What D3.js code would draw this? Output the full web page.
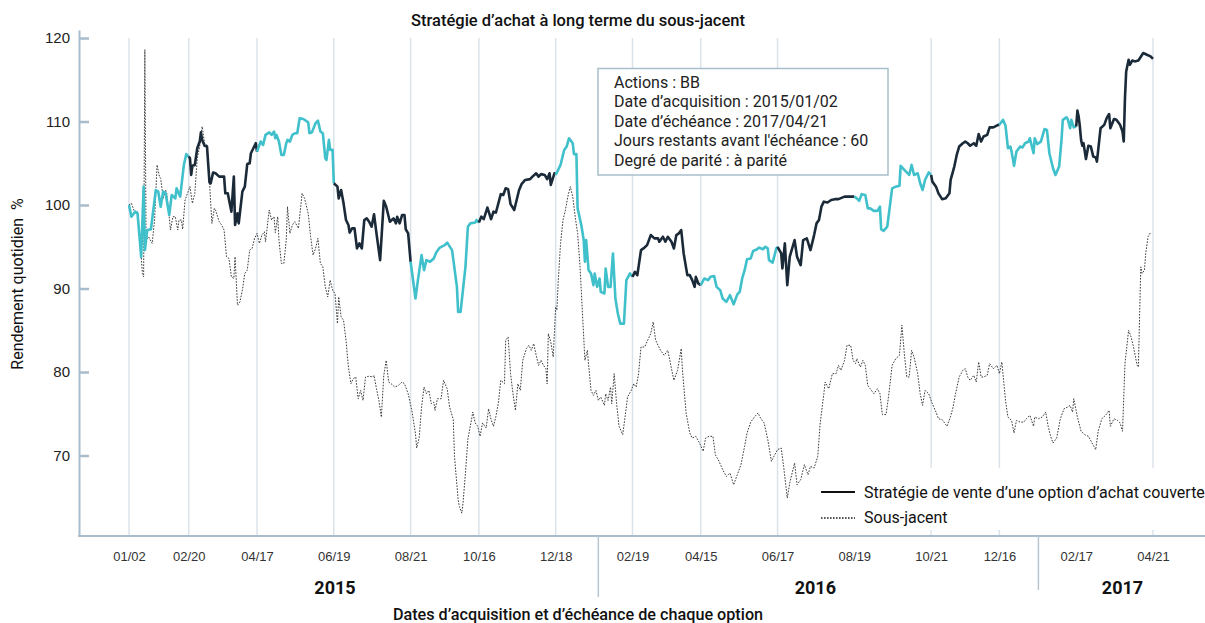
<!DOCTYPE html>
<html>
<head>
<meta charset="utf-8">
<script src="https://cdn.jsdelivr.net/npm/d3@7"></script>
<style>
  body { margin: 0; background: #fff; }
  svg { display: block; font-family: Roboto, "Noto Sans", sans-serif; }
</style>
</head>
<body>
<div id="chart"></div>
<script>
// option expiries (period boundaries), all used as x tick labels
const expiries = ["2015-01-02","2015-02-20","2015-04-17","2015-06-19","2015-08-21","2015-10-16","2015-12-18",
  "2016-02-19","2016-04-15","2016-06-17","2016-08-19","2016-10-21","2016-12-16","2017-02-17","2017-04-21"];
const noGrid = ["2016-08-19","2017-02-17"];
const yTicks = [70, 80, 90, 100, 110, 120];
const years = ["2015", "2016", "2017"];
const yearCenters = ["2015-06-20", "2016-07-18", "2017-03-27"];
const yearBreaks = ["2016-01-22", "2017-01-17"];
const infoLines = ["Actions : BB", "Date d\u2019acquisition : 2015/01/02", "Date d\u2019\u00e9ch\u00e9ance : 2017/04/21",
  "Jours restants avant l'\u00e9ch\u00e9ance : 60", "Degr\u00e9 de parit\u00e9 : \u00e0 parit\u00e9"];

// [days since 2015-01-02, value %]
const strategy = [[0,100.0],[2,98.6],[5,99.2],[7,99.0],[10,93.8],[12,102.2],[13,94.6],[15,97.0],[18,97.1],[22,101.8],[24,101.6],[26,99.8],[28,101.6],[30,101.4],[33,98.8],[35,101.2],[38,100.8],[39,102.0],[42,101.0],[45,104.8],[47,106.1],[49,105.8],
[50,105.6],[51,103.6],[52,104.7],[54,104.8],[56,106.8],[58,107.6],[59,108.7],[60,107.8],[62,107.1],[64,107.0],[66,102.7],[67,102.6],[69,103.9],[71,103.8],[74,103.4],[78,103.4],[79,101.4],[81,101.4],[84,99.2],[86,103.4],[87,97.6],[89,99.0],[90,97.8],[93,101.6],[95,102.2],[97,104.9],[99,105.0],[100,106.2],[102,106.8],[104,107.4],[105,106.4],
[106,106.8],[108,107.6],[110,107.2],[112,108.4],[115,108.7],[117,108.4],[119,108.8],[120,108.0],[121,108.4],[123,107.6],[125,106.0],[127,106.0],[129,107.4],[130,107.8],[132,107.6],[134,108.4],[136,108.6],[138,108.6],[140,110.4],[143,110.3],[147,109.9],[148,108.6],[150,108.7],[153,109.8],[155,110.1],[157,108.8],[159,108.6],[161,105.6],[162,105.4],[164,107.8],[165,106.6],[167,106.6],[168,102.6],
[171,102.2],[172,100.8],[174,101.8],[176,100.2],[178,98.2],[180,97.6],[181,96.7],[183,97.2],[185,97.2],[187,94.8],[189,95.4],[191,94.8],[193,98.2],[195,98.4],[197,98.0],[199,97.4],[201,98.9],[203,96.6],[206,93.4],[209,100.5],[211,99.8],[214,98.0],[217,98.4],[219,97.8],[220,98.6],[222,97.8],[224,98.8],[226,98.8],[227,97.1],[229,96.6],[231,93.2],
[235,88.8],[237,91.0],[240,94.0],[242,92.2],[244,93.4],[247,93.2],[250,93.6],[252,94.3],[255,94.9],[259,95.2],[261,95.5],[265,94.6],[269,90.2],[270,87.2],[272,87.2],[276,92.6],[278,97.4],[280,97.8],[284,97.9],[285,98.2],[287,97.9],
[289,98.6],[291,98.3],[294,99.7],[297,98.3],[299,99.2],[301,99.1],[305,101.3],[307,101.2],[309,102.0],[311,101.9],[313,100.1],[316,99.4],[318,100.6],[320,101.8],[322,102.5],[325,103.0],[329,103.1],[331,103.4],[334,103.8],[336,103.4],[338,103.7],[341,103.6],[343,103.1],[345,103.8],[346,102.4],[349,103.8],[350,103.6],
[354,104.8],[357,106.6],[359,107.0],[361,108.0],[364,107.4],[365,106.1],[367,106.1],[368,99.6],[371,97.6],[373,95.8],[374,93.2],[375,95.8],[377,92.2],[379,91.8],[381,90.4],[382,91.8],[384,90.2],[386,91.2],[387,89.6],[390,89.4],[391,92.4],[393,90.2],[395,90.2],[397,94.2],[399,88.8],[401,87.0],[403,85.8],[406,85.8],[408,91.0],[411,91.8],[413,91.4],
[415,92.0],[417,91.6],[420,94.6],[422,94.8],[425,95.2],[428,96.4],[431,96.0],[434,96.0],[435,95.6],[438,96.2],[440,95.6],[442,96.2],[445,95.6],[447,94.8],[449,96.4],[451,96.6],[453,97.0],[455,94.2],[458,91.6],[460,91.6],[462,91.0],[464,90.2],[465,91.4],[467,90.6],[469,90.4],
[472,91.2],[475,91.0],[477,91.4],[480,91.5],[482,90.2],[485,89.8],[487,88.8],[490,88.4],[493,89.2],[496,88.1],[499,89.3],[501,89.6],[503,91.2],[505,92.2],[507,93.5],[510,93.6],[512,94.5],[514,94.6],[517,94.9],[520,94.7],[522,95.0],[524,94.8],[525,93.4],[528,93.1],[531,94.8],[532,95.0],
[535,94.2],[536,92.4],[538,95.4],[540,90.4],[542,93.8],[546,95.8],[548,93.8],[551,92.8],[553,95.8],[556,96.0],[559,94.6],[562,96.4],[564,97.8],[566,98.2],[568,99.8],[570,100.4],[573,100.3],[576,100.6],[579,100.7],[582,100.7],[587,101.0],[591,101.0],[595,101.0],
[597,100.8],[599,100.5],[601,101.3],[604,101.2],[606,99.6],[608,99.6],[611,99.3],[614,99.3],[616,99.8],[617,97.1],[619,96.9],[622,97.4],[626,102.0],[629,102.2],[632,102.3],[633,104.7],[636,104.2],[640,103.6],[642,104.8],[644,103.6],[647,103.8],[649,102.6],[651,101.8],[653,103.0],[656,103.9],[658,103.6],
[659,102.8],[662,102.2],[664,101.4],[667,100.7],[670,100.8],[673,101.4],[674,103.0],[677,104.6],[679,106.0],[681,107.0],[684,107.4],[686,107.6],[688,107.4],[690,107.1],[693,107.4],[695,107.1],[697,108.5],[699,107.6],[701,108.2],[704,108.4],[706,109.3],[709,109.3],[713,109.6],[714,109.6],
[717,110.2],[719,109.5],[721,106.8],[723,107.0],[724,106.4],[726,104.7],[728,106.4],[731,107.0],[733,106.9],[735,107.4],[738,107.6],[739,108.0],[742,106.2],[743,108.0],[745,107.3],[748,107.6],[751,109.1],[753,109.0],[755,106.2],[758,104.4],[760,103.6],[763,104.6],[765,107.9],[766,110.2],[769,110.5],[770,110.3],[772,109.2],[773,110.2],[775,109.3],[777,109.4],
[778,111.3],[779,110.6],[780,109.4],[781,107.8],[782,107.1],[783,107.4],[785,105.5],[787,107.1],[789,107.0],[791,105.8],[793,105.7],[794,105.2],[797,109.2],[800,109.6],[802,110.4],[804,110.9],[805,109.2],[808,110.3],[810,110.2],[813,109.6],[815,108.8],[816,107.6],[817,112.8],[818,116.0],[820,117.4],[821,116.8],[823,117.3],[825,117.2],[828,117.3],[832,118.2],[835,118.0],[838,117.8],[840,117.5]];

const underlying = [[0,100.0],[2,100.2],[5,99.0],[7,99.2],[9,95.8],[11,91.8],[12,91.4],[13,118.6],[14,95.8],[16,96.2],[19,95.4],[21,98.2],[23,104.8],[25,103.4],[26,103.2],[28,100.8],[30,101.8],[31,101.4],[33,98.6],[34,97.0],[36,98.6],[38,98.6],[40,97.0],[41,98.2],[43,98.2],[44,97.1],[46,100.6],[48,101.4],[50,102.2],[52,100.2],[54,101.4],[56,105.6],[58,107.0],[60,109.4],[62,107.4],[64,107.2],[66,102.8],[68,97.8],[70,99.6],[71,99.4],[74,98.0],[76,97.6],[78,97.0],[80,93.8],[82,93.6],[84,91.4],[86,91.2],[87,93.8],[89,88.0],[91,88.4],[93,89.8],[95,91.8],[97,92.2],[99,94.6],[101,94.8],[103,96.0],[105,96.6],[107,95.4],[109,96.4],[111,96.8],[112,95.6],[115,99.4],[117,98.2],[119,98.6],[120,96.7],[122,98.6],[123,95.8],[125,93.0],[127,93.0],[129,95.8],[130,99.8],[132,96.6],[134,97.6],[136,98.0],[139,97.2],[142,101.4],[144,100.8],[147,99.0],[149,96.2],[151,94.0],[153,94.8],[155,96.0],[157,93.0],[159,92.6],[161,90.2],[163,89.0],[165,91.0],[167,89.8],[169,89.4],[171,85.8],[172,89.0],[174,86.6],[176,86.2],[178,83.8],[180,80.6],[182,78.6],[184,79.2],[186,79.4],[188,76.8],[190,77.8],[192,76.6],[194,79.4],[197,79.5],[200,79.4],[201,79.6],[203,78.0],[205,76.6],[207,74.6],[209,79.6],[211,81.4],[213,78.8],[215,78.6],[218,78.2],[221,78.4],[224,78.8],[226,78.6],[229,77.4],[232,75.4],[235,72.6],[236,70.9],[238,72.1],[240,75.8],[242,78.2],[244,77.4],[246,77.8],[248,76.2],[250,76.4],[251,75.4],[253,76.8],[256,76.8],[258,79.0],[261,78.0],[263,75.8],[266,74.3],[267,69.9],[270,64.7],[271,63.9],[273,63.1],[274,64.3],[276,67.9],[278,72.0],[281,74.3],[282,75.2],[284,73.9],[286,73.5],[288,72.3],[290,73.9],[293,73.3],[295,75.6],[297,74.3],[299,73.5],[301,74.7],[303,76.3],[305,79.0],[308,78.6],[309,83.8],[311,84.2],[313,79.8],[315,77.4],[317,75.4],[319,78.6],[321,77.8],[323,81.4],[326,82.8],[328,83.2],[330,82.6],[332,83.4],[334,82.0],[336,80.8],[338,81.4],[340,80.8],[342,80.4],[343,78.6],[344,84.6],[346,83.6],[348,81.8],[350,87.8],[351,87.4],[352,90.6],[354,95.4],[356,98.2],[358,99.4],[360,101.0],[362,102.2],[364,101.0],[366,98.6],[368,96.6],[370,92.6],[372,87.0],[374,81.4],[376,82.6],[377,80.9],[379,77.8],[381,77.2],[383,77.8],[385,76.6],[387,77.0],[390,76.0],[391,77.4],[393,76.6],[395,78.2],[396,76.2],[398,79.8],[400,76.2],[402,73.5],[405,72.5],[407,74.7],[409,77.0],[412,77.8],[414,78.6],[416,78.2],[418,79.8],[420,83.0],[423,83.0],[428,84.6],[430,86.0],[432,83.8],[436,82.6],[439,82.0],[442,82.6],[445,80.4],[447,79.0],[450,80.2],[453,82.8],[454,80.2],[457,75.1],[460,72.7],[462,72.1],[465,72.3],[468,71.5],[471,70.5],[473,72.1],[476,72.3],[479,72.3],[481,70.1],[484,69.3],[487,68.3],[490,67.5],[493,67.9],[496,66.5],[499,67.7],[502,68.9],[505,71.1],[507,72.7],[510,74.0],[513,74.6],[516,75.1],[518,74.5],[521,73.9],[524,71.9],[527,69.3],[529,69.9],[532,70.7],[535,70.9],[537,68.7],[540,64.9],[542,66.7],[546,69.1],[548,66.5],[551,67.1],[554,68.9],[557,67.7],[559,68.7],[562,68.5],[565,69.9],[567,73.9],[570,77.4],[571,78.8],[574,78.0],[577,79.8],[580,79.8],[582,80.8],[584,80.2],[587,81.4],[589,83.2],[592,83.2],[594,81.4],[596,81.0],[597,81.6],[600,80.6],[602,81.4],[604,80.8],[606,78.4],[608,78.0],[611,77.4],[614,78.0],[616,77.4],[618,74.9],[621,74.9],[623,77.0],[626,80.8],[629,81.6],[632,82.0],[634,85.6],[636,82.2],[638,79.4],[640,79.4],[642,82.6],[644,81.8],[647,79.8],[649,77.4],[651,76.0],[653,77.8],[656,77.4],[659,76.2],[662,75.2],[664,74.4],[667,74.3],[671,73.5],[674,74.7],[676,75.8],[678,77.4],[681,79.4],[684,80.2],[686,80.4],[688,79.4],[690,79.0],[693,79.6],[695,78.8],[697,81.2],[699,79.4],[701,79.4],[704,79.6],[706,81.0],[709,80.4],[712,80.8],[714,79.8],[716,81.2],[719,76.6],[721,74.6],[724,74.2],[726,72.7],[728,74.2],[731,74.0],[734,74.0],[736,74.4],[739,74.8],[742,73.5],[743,74.6],[746,74.4],[749,74.6],[752,75.2],[754,73.5],[756,72.3],[758,71.5],[761,72.1],[764,74.4],[767,75.6],[770,75.8],[772,76.0],[774,75.2],[775,76.8],[778,74.6],[781,72.9],[784,72.5],[787,72.3],[790,71.5],[793,70.7],[795,72.9],[798,74.4],[801,74.8],[804,75.4],[805,73.5],[808,74.4],[811,74.2],[813,73.9],[815,72.9],[817,81.0],[820,85.0],[822,84.2],[824,83.0],[827,80.8],[828,80.6],[830,92.6],[831,91.8],[833,92.2],[834,94.2],[836,96.2],[838,96.7]];

const W = 1205, H = 623;
const parse = d3.utcParse("%Y-%m-%d");
const start = parse(expiries[0]);
const toDate = d => d3.utcDay.offset(start, d);
const dark = "#1b2a39", cyan = "#3fc0cb", axisCol = "#a9bccb", gridCol = "#dbe3ea";

const svg = d3.select("#chart").append("svg").attr("width", W).attr("height", H);

const x = d3.scaleUtc().domain([start, parse(expiries[expiries.length - 1])]).range([129, 1153]);
const y = d3.scaleLinear().domain([60.36, 120.96]).range([536, 30]);

// vertical grid at each expiry
svg.append("g").selectAll("line")
  .data(expiries.filter(d => !noGrid.includes(d)))
  .join("line")
  .attr("x1", d => x(parse(d))).attr("x2", d => x(parse(d)))
  .attr("y1", y(120)).attr("y2", 536)
  .attr("stroke", gridCol).attr("stroke-width", 1.5);

// y axis
const yAxis = svg.append("g").attr("transform", "translate(79,0)")
  .call(d3.axisLeft(y).tickValues(yTicks).tickSize(-10).tickSizeOuter(0).tickPadding(9));
yAxis.select(".domain").attr("stroke", axisCol).attr("stroke-width", 2);
yAxis.selectAll(".tick line").attr("stroke", axisCol).attr("stroke-width", 2.5);
yAxis.selectAll(".tick text").attr("fill", "#222").style("font-size", "15px").style("font-weight", 500);

// x axis
svg.append("line").attr("x1", 78).attr("x2", W).attr("y1", 536).attr("y2", 536)
  .attr("stroke", axisCol).attr("stroke-width", 2);
const xAxis = svg.append("g").attr("transform", "translate(0,536)")
  .call(d3.axisBottom(x).tickValues(expiries.map(parse)).tickFormat(d3.utcFormat("%m/%d")).tickSize(0).tickPadding(15.5));
xAxis.select(".domain").remove();
xAxis.selectAll(".tick text").attr("fill", "#333").style("font-size", "13px");

// year separators and labels
svg.append("g").selectAll("line").data(yearBreaks).join("line")
  .attr("x1", d => x(parse(d))).attr("x2", d => x(parse(d)))
  .attr("y1", 536).attr("y2", (d, i) => i === 0 ? 597 : 590)
  .attr("stroke", "#b8c6d2").attr("stroke-width", 1.5);
svg.append("g").selectAll("text").data(years).join("text")
  .attr("x", (d, i) => x(parse(yearCenters[i]))).attr("y", 594)
  .attr("text-anchor", "middle").attr("fill", "#111")
  .style("font-size", "18px").style("font-weight", 700).text(d => d);

// legend background hides the grid
svg.append("rect").attr("x", 815).attr("y", 468).attr("width", 400).attr("height", 62).attr("fill", "#fff");

// underlying (dotted)
const line = d3.line().x(d => x(toDate(d[0]))).y(d => y(d[1]));
svg.append("path").datum(underlying).attr("d", line)
  .attr("fill", "none").attr("stroke", "#3a3a3a").attr("stroke-width", 1)
  .attr("stroke-dasharray", "1.6 1.4");

// strategy, split by option period with alternating colours
const bounds = expiries.map(s => Math.round((parse(s) - start) / 864e5));
const segs = d3.range(bounds.length - 1).map(i => {
  let lo = bounds[i], hi = bounds[i + 1];
  let pts = strategy.filter(d => d[0] >= lo && d[0] <= hi);
  const prev = strategy.filter(d => d[0] < lo).pop();
  if (prev && pts[0][0] > lo) pts.unshift(prev);
  return { i, pts };
});
svg.append("g").selectAll("path").data(segs).join("path")
  .attr("d", d => line(d.pts))
  .attr("fill", "none").attr("stroke", d => d.i % 2 ? dark : cyan)
  .attr("stroke-width", 2.6).attr("stroke-linejoin", "round");

// info box
svg.append("rect").attr("x", 598).attr("y", 68.5).attr("width", 290).attr("height", 106.5)
  .attr("fill", "#fff").attr("stroke", "#a9bfcc").attr("stroke-width", 1.5);
svg.append("g").selectAll("text").data(infoLines).join("text")
  .attr("x", 614).attr("y", (d, i) => 88 + i * 19.4)
  .attr("fill", "#222").style("font-size", "16px").text(d => d);

// legend
svg.append("line").attr("x1", 821).attr("x2", 855).attr("y1", 492).attr("y2", 492)
  .attr("stroke", "#111").attr("stroke-width", 2);
svg.append("line").attr("x1", 821).attr("x2", 855).attr("y1", 518).attr("y2", 518)
  .attr("stroke", "#222").attr("stroke-width", 1.3).attr("stroke-dasharray", "1.6 1.4");
svg.append("text").attr("x", 864).attr("y", 497.5).attr("fill", "#111").style("font-size", "16px")
  .text("Strat\u00e9gie de vente d\u2019une option d\u2019achat couverte");
svg.append("text").attr("x", 864).attr("y", 522.5).attr("fill", "#111").style("font-size", "16px")
  .text("Sous-jacent");

// titles
svg.append("text").attr("x", 578).attr("y", 26).attr("text-anchor", "middle")
  .attr("fill", "#111").style("font-size", "16.5px").style("font-weight", 500)
  .text("Strat\u00e9gie d\u2019achat \u00e0 long terme du sous-jacent");
svg.append("text").attr("x", 578).attr("y", 620).attr("text-anchor", "middle")
  .attr("fill", "#111").style("font-size", "16.2px").style("font-weight", 500)
  .text("Dates d\u2019acquisition et d\u2019\u00e9ch\u00e9ance de chaque option");
svg.append("text").attr("transform", "translate(23,284) rotate(-90)").attr("text-anchor", "middle")
  .attr("fill", "#111").style("font-size", "16px")
  .text("Rendement quotidien\u00a0\u00a0%");
</script>
</body>
</html>
